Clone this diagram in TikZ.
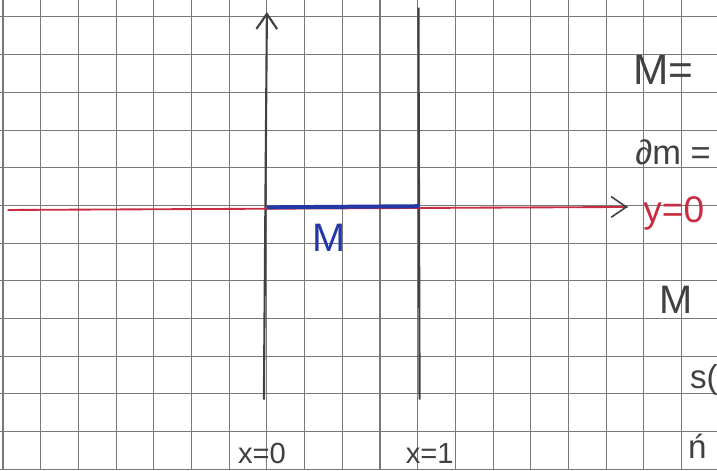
\documentclass[tikz,border=0pt]{standalone}
\usepackage{fontspec}
\setmainfont{Liberation Sans}
\usepackage{xcolor}
\usetikzlibrary{arrows.meta, calc}
\definecolor{penred}{RGB}{200,45,65}
\definecolor{penblue}{RGB}{35,55,165}
\definecolor{pencil}{RGB}{65,65,65}
\definecolor{gridgray}{RGB}{120,120,120}

\begin{document}
\begin{tikzpicture}[x=1cm,y=1cm,
  gridline/.style={draw=gridgray, line width=0.8pt},
  axisline/.style={draw=pencil, line width=1.6pt},
  barb/.style={-{Straight Barb[length=4mm,width=5.5mm]}},
  hand/.style={inner sep=0pt, font=\fontsize{#1}{#1}\selectfont}]
\useasboundingbox (0,0) rectangle (19.02,-12.47);
\clip (0,0) rectangle (19.02,-12.47);
\fill[white] (0,0) rectangle (19.02,-12.47);

% squared paper
\foreach \i in {0,...,19}
  \draw[gridline] (0.08+\i,0) -- (0.08+\i,-12.47);
\foreach \j in {0,...,12}
  \draw[gridline] (0,-0.45-\j) -- (19.02,-0.45-\j);

% axes
\coordinate (ybot) at (7.0,-10.6);
\coordinate (ytop) at (7.08,-0.32);
\coordinate (xleft) at (0.2,-5.57);
\coordinate (xright) at (16.65,-5.49);
\coordinate (onetop) at (11.1,-0.2);
\coordinate (onebot) at (11.13,-10.6);
\draw[axisline, barb] (ybot) -- (ytop);
\draw[axisline] (onetop) -- (onebot);
\draw[line width=1.4pt, penred] (xleft) -- (xright);
\draw[line width=1.2pt, pencil, barb] ($(xright)+(-0.1,0)$) -- (xright);

% the segment M
\coordinate (mleft) at (7.08,-5.5);
\coordinate (mright) at (11.12,-5.47);
\draw[line width=3pt, penblue] (mleft) -- (mright);
\node[hand=30, penblue] (mlabel) at (8.73,-6.31) {M};

% labels below
\node[hand=22, pencil, anchor=base] (xzero) at (6.95,-12.3) {x=0};
\node[hand=22, pencil, anchor=base] (xone) at (11.4,-12.3) {x=1};

% notes on the right
\node[hand=32, pencil, anchor=west] (mbig) at (16.8,-1.85) {M=};
\node[hand=26, pencil, anchor=west] (dm) at (16.85,-4.03) {∂m =};
\node[hand=28, penred, anchor=west] (yzero) at (17.06,-5.65) {y=0};
\node[hand=30, pencil] (mlow) at (17.93,-7.96) {M};
\node[hand=25, pencil, anchor=west] (sq) at (18.3,-10.08) {s(};
\node[hand=25, pencil, anchor=base west] (nn) at (18.25,-12.15) {ń};
\end{tikzpicture}
\end{document}
